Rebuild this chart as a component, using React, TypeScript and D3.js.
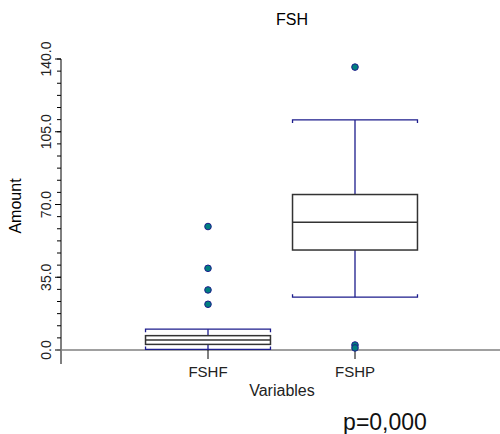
import React, { useEffect, useRef } from 'react'
import * as d3 from 'd3'

// box statistics
const categories = ['FSHF', 'FSHP']
const whiskerLow = [0.3, 25.4]
const q1 = [2.7, 48.1]
const medians = [4.8, 61.5]
const q3 = [6.9, 74.8]
const whiskerHigh = [10.0, 110.7]
const outliers = [
  [59.4, 39.3, 28.9, 22.0],
  [136.1, 2.4, 1.0]
]
const yTickValues = [0, 35, 70, 105, 140]

const width = 500
const height = 434
const font = 'Arial, "Liberation Sans", Helvetica, sans-serif'
const navy = '#1c1c8c'

export default function App () {
  const ref = useRef<SVGSVGElement>(null)

  useEffect(() => {
    const svg = d3.select(ref.current)
    svg.selectAll('*').remove()

    const x = d3.scaleLinear().domain([0, 3]).range([61, 502])
    const y = d3.scaleLinear().domain([0, 140]).range([350, 59])
    const halfBox = 0.425

    // title
    svg.append('text')
      .attr('x', 292).attr('y', 25)
      .attr('text-anchor', 'middle')
      .attr('font-family', font).attr('font-size', 16)
      .text('FSH')

    // y axis
    const minor = d3.range(0, 140.001, 35 / 6)
    svg.append('line')
      .attr('x1', x(0)).attr('x2', x(0))
      .attr('y1', y(140)).attr('y2', y(0) + 14)
      .attr('stroke', '#000')
    svg.selectAll('.minor')
      .data(minor)
      .enter().append('line')
      .attr('x1', x(0) - 4).attr('x2', x(0))
      .attr('y1', (d) => y(d)).attr('y2', (d) => y(d))
      .attr('stroke', '#000')
    svg.selectAll('.major')
      .data(yTickValues)
      .enter().append('line')
      .attr('x1', x(0) - 6).attr('x2', x(0))
      .attr('y1', (d) => y(d)).attr('y2', (d) => y(d))
      .attr('stroke', '#000')
    svg.selectAll('.ylab')
      .data(yTickValues)
      .enter().append('text')
      .attr('transform', (d) => 'translate(51,' + y(d) + ') rotate(-90)')
      .attr('text-anchor', 'middle')
      .attr('font-family', font).attr('font-size', 14)
      .attr('fill', '#222')
      .text((d) => d3.format('.1f')(d))
    svg.append('text')
      .attr('transform', 'translate(21,206) rotate(-90)')
      .attr('text-anchor', 'middle')
      .attr('font-family', font).attr('font-size', 16)
      .text('Amount')

    // x axis
    svg.append('line')
      .attr('x1', x(0) - 5).attr('x2', width)
      .attr('y1', y(0)).attr('y2', y(0))
      .attr('stroke', '#808080').attr('stroke-width', 1.5)
    svg.selectAll('.xtick')
      .data(categories)
      .enter().append('line')
      .attr('x1', (d, i) => x(i + 1)).attr('x2', (d, i) => x(i + 1))
      .attr('y1', y(0)).attr('y2', y(0) + 9)
      .attr('stroke', '#000')
    svg.selectAll('.xlab')
      .data(categories)
      .enter().append('text')
      .attr('x', (d, i) => x(i + 1)).attr('y', 377)
      .attr('text-anchor', 'middle')
      .attr('font-family', font).attr('font-size', 15)
      .attr('fill', '#222')
      .text((d) => d)
    svg.append('text')
      .attr('x', 282).attr('y', 396)
      .attr('text-anchor', 'middle')
      .attr('font-family', font).attr('font-size', 16)
      .attr('fill', '#222')
      .text('Variables')

    // boxes
    const g = svg.append('g')
    categories.forEach((c, i) => {
      const cx = x(i + 1)
      const left = x(i + 1 - halfBox)
      const right = x(i + 1 + halfBox)

      // whiskers
      g.append('line')
        .attr('x1', cx).attr('x2', cx)
        .attr('y1', y(whiskerHigh[i])).attr('y2', y(q3[i]))
        .attr('stroke', navy).attr('stroke-width', 1.3)
      g.append('line')
        .attr('x1', cx).attr('x2', cx)
        .attr('y1', y(q1[i])).attr('y2', y(whiskerLow[i]))
        .attr('stroke', navy).attr('stroke-width', 1.3)
      // caps, bracket ends
      g.append('path')
        .attr('d', 'M' + left + ',' + (y(whiskerHigh[i]) + 3) + 'V' + y(whiskerHigh[i]) +
          'H' + right + 'V' + (y(whiskerHigh[i]) + 3))
        .attr('fill', 'none').attr('stroke', navy).attr('stroke-width', 1.3)
      g.append('path')
        .attr('d', 'M' + left + ',' + (y(whiskerLow[i]) - 3) + 'V' + y(whiskerLow[i]) +
          'H' + right + 'V' + (y(whiskerLow[i]) - 3))
        .attr('fill', 'none').attr('stroke', navy).attr('stroke-width', 1.3)

      g.append('rect')
        .attr('x', left).attr('y', y(q3[i]))
        .attr('width', right - left).attr('height', y(q1[i]) - y(q3[i]))
        .attr('fill', '#fff').attr('stroke', '#333').attr('stroke-width', 1.5)
      g.append('line')
        .attr('x1', left).attr('x2', right)
        .attr('y1', y(medians[i])).attr('y2', y(medians[i]))
        .attr('stroke', '#333').attr('stroke-width', 1.5)

      g.selectAll('.out' + i)
        .data(outliers[i])
        .enter().append('circle')
        .attr('cx', cx).attr('cy', (d) => y(d))
        .attr('r', 3.3)
        .attr('fill', '#007f7f').attr('stroke', navy).attr('stroke-width', 1)
    })

    svg.append('text')
      .attr('x', 385).attr('y', 430)
      .attr('text-anchor', 'middle')
      .attr('font-family', font).attr('font-size', 23)
      .attr('fill', '#111')
      .text('p=0,000')
  }, [])

  return (
    <svg ref={ref} width={width} height={height}
      style={{ position: 'absolute', left: 0, top: 0, background: '#fff' }} />
  )
}
